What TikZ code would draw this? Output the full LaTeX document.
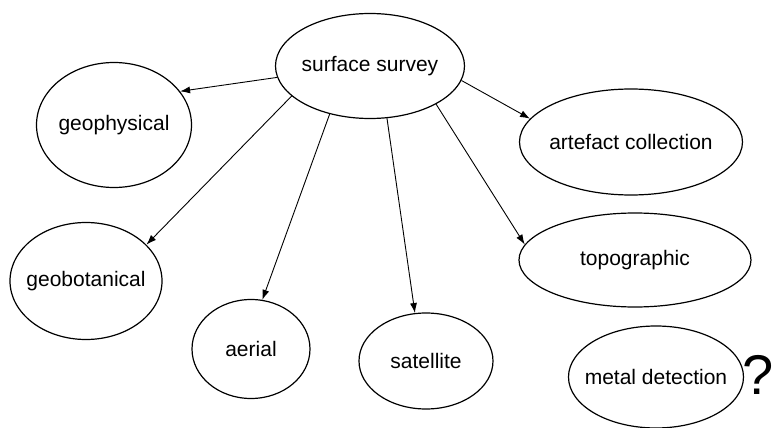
\documentclass[tikz,border=0pt]{standalone}
\usepackage{fontspec}
\setmainfont{Liberation Sans}
\usetikzlibrary{shapes.geometric,arrows.meta}
\newcommand{\ovaltext}[1]{\makebox[0pt]{#1}}
\begin{document}
\begin{tikzpicture}
	  [x=0.5pt,y=-0.5pt,every path/.style={>={Latex[length=5pt,width=3.5pt]}},
	   every node/.style={draw, ellipse, inner sep=0pt, line width=0.6pt, font=\fontsize{10.5}{12}\selectfont}]
	  \useasboundingbox (0,0) rectangle (773,428);
	  \node[minimum width=94.5pt, minimum height=52.5pt] (ss) at (370,66) {\ovaltext{surface survey}};
	  \node[minimum width=77.5pt, minimum height=62.5pt] (geophys) at (114,125) {\ovaltext{geophysical}};
	  \node[minimum width=111.5pt, minimum height=53pt] (artefact) at (631,142) {\ovaltext{artefact collection}};
	  \node[minimum width=76pt, minimum height=58.5pt] (geobot) at (86,281) {\ovaltext{geobotanical}};
	  \node[minimum width=116pt, minimum height=47pt] (topo) at (635,260) {\ovaltext{topographic}};
	  \node[minimum width=59pt, minimum height=49.5pt] (aerial) at (251,349) {\ovaltext{aerial}};
	  \node[minimum width=67pt, minimum height=48pt] (sat) at (426,361) {\ovaltext{satellite}};
	  \node[minimum width=87.5pt, minimum height=51pt] (metal) at (656,377) {\ovaltext{metal detection}};
	  \node[draw=none, font=\fontsize{28}{33}\selectfont] (qmark) at (758,375) {?};

	  \foreach \from/\to in {ss.187/geophys.27,ss.201/geobot.31,ss.230/aerial.77,ss.288/sat.103,ss.330/topo.172,ss.351/artefact.167}
	    \draw[->, line width=0.45pt] (\from) -- (\to);
	\end{tikzpicture}
\end{document}
